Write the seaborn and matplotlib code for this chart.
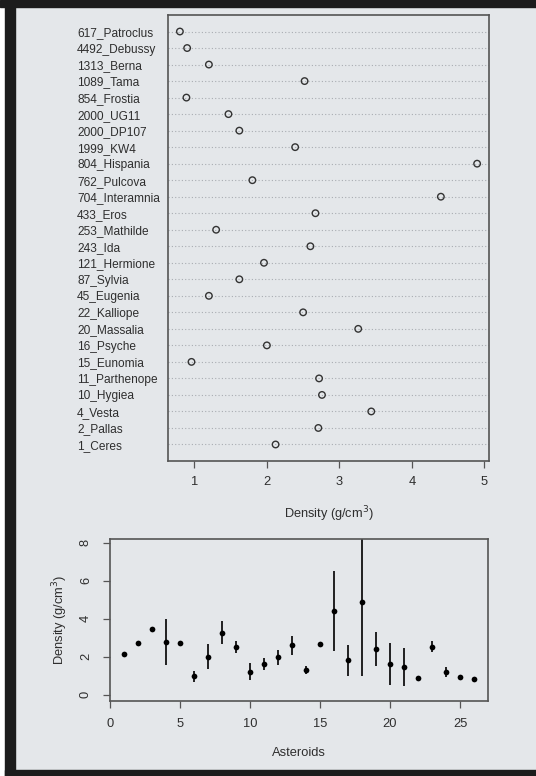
import numpy as np
import pandas as pd
import seaborn as sns
import matplotlib.pyplot as plt
from matplotlib.patches import Rectangle

# asteroids, numbered 1..26 in the lower panel
names = ['1_Ceres', '2_Pallas', '4_Vesta', '10_Hygiea', '11_Parthenope',
         '15_Eunomia', '16_Psyche', '20_Massalia', '22_Kalliope', '45_Eugenia',
         '87_Sylvia', '121_Hermione', '243_Ida', '253_Mathilde', '433_Eros',
         '704_Interamnia', '762_Pulcova', '804_Hispania', '1999_KW4', '2000_DP107',
         '2000_UG11', '854_Frostia', '1089_Tama', '1313_Berna', '4492_Debussy',
         '617_Patroclus']
density = [2.12, 2.71, 3.44, 2.76, 2.72, 0.96, 2.00, 3.26, 2.50, 1.20,
           1.62, 1.96, 2.60, 1.30, 2.67, 4.40, 1.80, 4.90, 2.39, 1.62,
           1.47, 0.89, 2.52, 1.20, 0.90, 0.80]
error = [0.05, 0.05, 0.05, 1.20, 0.10, 0.30, 0.65, 0.60, 0.30, 0.44,
         0.30, 0.38, 0.50, 0.20, 0.05, 2.10, 0.82, 3.90, 0.90, 1.10,
         1.00, 0.05, 0.30, 0.25, 0.05, 0.10]

df = pd.DataFrame({'name': names, 'density': density, 'error': error})
df['idx'] = np.arange(1, len(df) + 1)

sns.set_theme(style='white')
plt.rcParams['font.family'] = ['Liberation Sans', 'DejaVu Sans']

bg = '#e4e7ea'
dark = '#1c1c1c'
spine = '#555555'
txt = '#2e2e2e'

fig = plt.figure(figsize=(5.36, 7.76), dpi=100, facecolor=bg)
W, H = 536, 776

# frame around the picture
fig.add_artist(Rectangle((0, 0), 5 / W, 1, transform=fig.transFigure, color='white', zorder=-5))
fig.add_artist(Rectangle((5 / W, 0), 10 / W, 1, transform=fig.transFigure, color=dark, zorder=-5))
fig.add_artist(Rectangle((0, 1 - 7 / H), 1, 7 / H, transform=fig.transFigure, color=dark, zorder=-5))
fig.add_artist(Rectangle((5 / W, 0), 1, 6 / H, transform=fig.transFigure, color=dark, zorder=-5))

ax1 = fig.add_axes([168 / W, 1 - 461 / H, 321 / W, 446 / H])
ax2 = fig.add_axes([110 / W, 1 - 701 / H, 378 / W, 162 / H])

# --- dotchart ---
sns.scatterplot(data=df, x='density', y='name', ax=ax1, marker='o', s=22, zorder=3)
ax1.collections[0].set_facecolor('none')
ax1.collections[0].set_edgecolor('#333333')
ax1.collections[0].set_linewidth(1.0)
ax1.set_xlim(0.636, 5.064)
ax1.set_ylim(-1, len(df))
ax1.yaxis.grid(True, linestyle=(0, (1, 2)), color='#a9adb2', linewidth=0.8)
ax1.set_xticks([1, 2, 3, 4, 5])
ax1.tick_params(axis='y', length=0, pad=65.5, labelsize=8.6, labelcolor=txt)
for lab in ax1.get_yticklabels():
    lab.set_horizontalalignment('left')
ax1.tick_params(axis='x', direction='out', length=5, width=0.9, color=spine,
                pad=6, labelsize=9.3, labelcolor=txt, bottom=True)
ax1.set_ylabel('')
ax1.set_xlabel('Density (g/cm$^3$)', fontsize=9.2, color=txt)
ax1.xaxis.set_label_coords(0.5, -0.097)

# --- error bar plot ---
sns.scatterplot(data=df, x='idx', y='density', ax=ax2, color='black',
                s=17, linewidth=0, zorder=3)
ax2.vlines(df['idx'], df['density'] - df['error'], df['density'] + df['error'],
           color='#111111', linewidth=1.3)
ax2.set_xlim(0, 27)
ax2.set_ylim(-0.34, 8.2)
ax2.set_xticks([0, 5, 10, 15, 20, 25])
ax2.set_yticks([0, 2, 4, 6, 8])
ax2.tick_params(axis='both', direction='out', length=5, width=0.9, color=spine,
                labelsize=9.3, labelcolor=txt, bottom=True, left=True)
ax2.tick_params(axis='x', pad=7)
ax2.tick_params(axis='y', pad=8)
for lab in ax2.get_yticklabels():
    lab.set_rotation(90)
    lab.set_verticalalignment('center')
ax2.set_xlabel('Asteroids', fontsize=9.3, color=txt)
ax2.set_ylabel('Density (g/cm$^3$)', fontsize=9.3, color=txt)
ax2.xaxis.set_label_coords(0.5, -0.285)
ax2.yaxis.set_label_coords(-0.105, 0.5)

for ax in (ax1, ax2):
    ax.set_facecolor(bg)
    for s in ax.spines.values():
        s.set_color(spine)
        s.set_linewidth(1.2)

fig.savefig('out.png', dpi=100, facecolor=bg)
